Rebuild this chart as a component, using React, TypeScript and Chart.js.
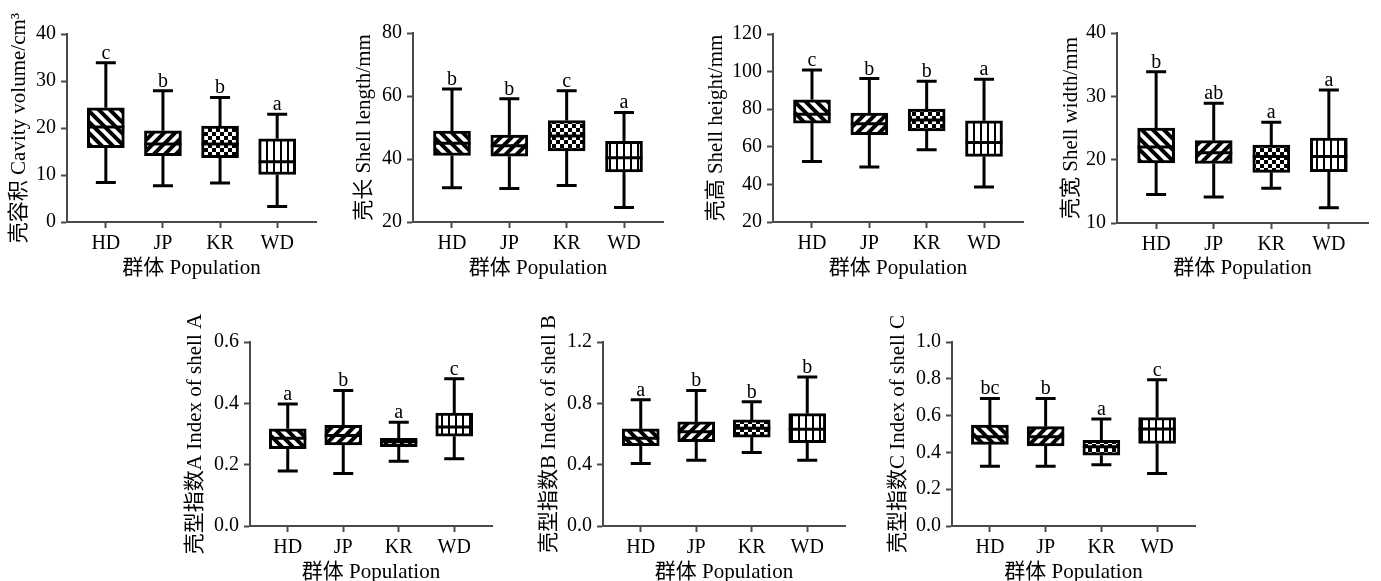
import React, { useEffect, useRef } from "react";
import { Chart, registerables } from "chart.js";
Chart.register(...registerables);

// ---------- data ----------
const populations = ["HD", "JP", "KR", "WD"];
const patternKinds = ["back", "fwd", "check", "vert"];

// each row: [min, Q1, median, Q3, max]
const cavityVolume = [
  [8.4, 15.8, 20.2, 24.3, 33.9],
  [7.7, 14.1, 16.6, 19.4, 27.9],
  [8.3, 13.7, 16.6, 20.4, 26.5],
  [3.3, 10.1, 12.8, 17.7, 22.9],
];
const cavityLetters = ["c", "b", "b", "a"];

const shellLength = [
  [30.9, 41.1, 45.0, 48.9, 62.2],
  [30.6, 40.9, 44.2, 47.6, 59.1],
  [31.6, 42.6, 47.3, 52.2, 61.7],
  [24.6, 35.9, 40.4, 45.6, 54.8],
];
const lengthLetters = ["b", "b", "c", "a"];

const shellHeight = [
  [52.2, 72.6, 77.3, 85.0, 100.9],
  [49.2, 66.4, 72.2, 77.9, 96.3],
  [58.4, 68.5, 74.3, 80.0, 94.9],
  [38.6, 54.9, 62.3, 73.8, 95.9],
];
const heightLetters = ["c", "b", "b", "a"];

const shellWidth = [
  [14.5, 19.5, 22.0, 25.0, 33.9],
  [14.1, 19.4, 21.1, 23.0, 28.9],
  [15.5, 18.0, 20.5, 22.3, 25.9],
  [12.4, 18.1, 20.5, 23.4, 31.0],
];
const widthLetters = ["b", "ab", "a", "a"];

const indexA = [
  [0.179, 0.252, 0.286, 0.317, 0.398],
  [0.171, 0.264, 0.295, 0.328, 0.442],
  [0.211, 0.259, 0.275, 0.286, 0.338],
  [0.219, 0.293, 0.323, 0.368, 0.48],
];
const indexALetters = ["a", "b", "a", "c"];

const indexB = [
  [0.408, 0.524, 0.572, 0.633, 0.823],
  [0.428, 0.55, 0.615, 0.679, 0.884],
  [0.48, 0.58, 0.637, 0.692, 0.81],
  [0.428, 0.543, 0.631, 0.733, 0.971],
];
const indexBLetters = ["a", "b", "b", "b"];

const indexC = [
  [0.325, 0.444, 0.485, 0.549, 0.693],
  [0.325, 0.435, 0.485, 0.54, 0.693],
  [0.333, 0.385, 0.431, 0.465, 0.582],
  [0.285, 0.449, 0.527, 0.589, 0.795],
];
const indexCLetters = ["bc", "b", "a", "c"];

const xTitle = "群体 Population";

// ---------- panel setup (layout) ----------
type Panel = {
  stats: number[][];
  letters: string[];
  title: string;
  yMin: number;
  yMax: number;
  step: number;
  decimals: number;
  left: number;
  right: number;
  top: number;
  bottom: number;
  titleX: number;
  xTitleY: number;
};

const panels: Panel[] = [
  { stats: cavityVolume, letters: cavityLetters, title: "壳容积 Cavity volume/cm³", yMin: 0, yMax: 40, step: 10, decimals: 0, left: 67, right: 316, top: 34, bottom: 222, titleX: 19, xTitleY: 268 },
  { stats: shellLength, letters: lengthLetters, title: "壳长 Shell length/mm", yMin: 20, yMax: 80, step: 20, decimals: 0, left: 413, right: 663, top: 33, bottom: 222, titleX: 364, xTitleY: 268 },
  { stats: shellHeight, letters: heightLetters, title: "壳高 Shell height/mm", yMin: 20, yMax: 120, step: 20, decimals: 0, left: 773, right: 1023, top: 34, bottom: 222, titleX: 716, xTitleY: 268 },
  { stats: shellWidth, letters: widthLetters, title: "壳宽 Shell width/mm", yMin: 10, yMax: 40, step: 10, decimals: 0, left: 1117, right: 1368, top: 33, bottom: 223, titleX: 1071, xTitleY: 268 },
  { stats: indexA, letters: indexALetters, title: "壳型指数A Index of shell A", yMin: 0, yMax: 0.6, step: 0.2, decimals: 1, left: 250, right: 492, top: 342, bottom: 526, titleX: 195, xTitleY: 572 },
  { stats: indexB, letters: indexBLetters, title: "壳型指数B Index of shell B", yMin: 0, yMax: 1.2, step: 0.4, decimals: 1, left: 603, right: 845, top: 342, bottom: 526, titleX: 549, xTitleY: 572 },
  { stats: indexC, letters: indexCLetters, title: "壳型指数C Index of shell C", yMin: 0, yMax: 1.0, step: 0.2, decimals: 1, left: 952, right: 1195, top: 342, bottom: 526, titleX: 898, xTitleY: 572 },
];

const W = 1381;
const H = 600;
const FONT = "'Liberation Serif', 'Times New Roman', 'Noto Sans CJK SC', serif";
const AX = "#4a4a4a";
const TICK_SIZE = 20;
const TITLE_SIZE = 21;
const BOX_W = 37;
const CAP_HALF = 10;

function makePattern(ctx: CanvasRenderingContext2D, kind: string): CanvasPattern | string {
  const c = document.createElement("canvas");
  const g = c.getContext("2d")!;
  if (kind === "back" || kind === "fwd") {
    const s = 11;
    c.width = s;
    c.height = s;
    g.fillStyle = "#fff";
    g.fillRect(0, 0, s, s);
    g.strokeStyle = "#000";
    g.lineWidth = 4;
    g.beginPath();
    for (let k = -1; k <= 1; k++) {
      if (kind === "back") {
        g.moveTo(k * s - 2, -2);
        g.lineTo(k * s + s + 2, s + 2);
      } else {
        g.moveTo(k * s - 2, s + 2);
        g.lineTo(k * s + s + 2, -2);
      }
    }
    g.stroke();
  } else if (kind === "check") {
    const s = 8;
    c.width = s;
    c.height = s;
    g.fillStyle = "#fff";
    g.fillRect(0, 0, s, s);
    g.fillStyle = "#000";
    g.fillRect(0, 0, s / 2, s / 2);
    g.fillRect(s / 2, s / 2, s / 2, s / 2);
  } else {
    c.width = 7;
    c.height = 2;
    g.fillStyle = "#fff";
    g.fillRect(0, 0, 7, 2);
    g.fillStyle = "#000";
    g.fillRect(0, 0, 2, 2);
  }
  return ctx.createPattern(c, "repeat") || "#fff";
}

function buildChart(canvas: HTMLCanvasElement, p: Panel): Chart {
  const ctx = canvas.getContext("2d")!;
  const patterns = patternKinds.map((k) => makePattern(ctx, k));
  const halfTitle = (TITLE_SIZE * 1.2) / 2;
  const scaleLeft = p.titleX - halfTitle;
  const yWidth = p.left - scaleLeft;
  const xBottom = p.xTitleY + halfTitle;
  const xHeight = xBottom - p.bottom;

  const extras = {
    id: "boxExtras",
    afterDatasetsDraw(chart: any) {
      const { ctx: c, scales } = chart;
      const x = scales.x;
      const y = scales.y;
      c.save();
      c.strokeStyle = "#000";
      c.lineWidth = 3;
      c.lineCap = "butt";
      p.stats.forEach((s, i) => {
        const px = x.getPixelForValue(i);
        const yMin = y.getPixelForValue(s[0]);
        const yQ1 = y.getPixelForValue(s[1]);
        const yMed = y.getPixelForValue(s[2]);
        const yQ3 = y.getPixelForValue(s[3]);
        const yMax = y.getPixelForValue(s[4]);
        c.beginPath();
        c.moveTo(px, yQ1);
        c.lineTo(px, yMin);
        c.moveTo(px - CAP_HALF, yMin);
        c.lineTo(px + CAP_HALF, yMin);
        c.moveTo(px, yQ3);
        c.lineTo(px, yMax);
        c.moveTo(px - CAP_HALF, yMax);
        c.lineTo(px + CAP_HALF, yMax);
        c.moveTo(px - BOX_W / 2, yMed);
        c.lineTo(px + BOX_W / 2, yMed);
        c.stroke();
        c.fillStyle = "#000";
        c.font = `${TICK_SIZE}px ${FONT}`;
        c.textAlign = "center";
        c.textBaseline = "alphabetic";
        c.fillText(p.letters[i], px, yMax - 4);
      });
      c.restore();
    },
  };

  return new Chart(canvas, {
    type: "bar",
    data: {
      datasets: [
        {
          data: p.stats.map((s, i) => ({ x: i, y: [s[1], s[3]] })) as any,
          backgroundColor: patterns as any,
          borderColor: "#000",
          borderWidth: 3,
          borderSkipped: false,
          barThickness: BOX_W,
        },
      ],
    },
    options: {
      responsive: false,
      animation: false,
      events: [],
      layout: {
        padding: {
          left: scaleLeft,
          top: p.top,
          right: W - p.right,
          bottom: H - xBottom,
        },
      },
      plugins: { legend: { display: false }, tooltip: { enabled: false } },
      scales: {
        x: {
          type: "linear",
          offset: false,
          min: -0.68,
          max: 3.68,
          afterBuildTicks: (s: any) => {
            s.ticks = populations.map((_, i) => ({ value: i }));
          },
          afterFit: (s: any) => {
            s.height = xHeight;
          },
          ticks: {
            autoSkip: false,
            maxRotation: 0,
            padding: 4,
            color: "#000",
            font: { family: FONT, size: TICK_SIZE },
            callback: (v: any) => populations[Math.round(Number(v))] ?? "",
          },
          grid: { offset: false, drawOnChartArea: false, drawTicks: true, tickLength: 6, tickColor: AX, tickWidth: 2 },
          border: { display: true, color: AX, width: 2 },
          title: { display: true, text: xTitle, color: "#000", font: { family: FONT, size: TITLE_SIZE }, padding: 0 },
        },
        y: {
          type: "linear",
          min: p.yMin,
          max: p.yMax,
          afterFit: (s: any) => {
            s.width = yWidth;
          },
          ticks: {
            stepSize: p.step,
            padding: 5,
            color: "#000",
            font: { family: FONT, size: TICK_SIZE },
            callback: (v: any) => Number(v).toFixed(p.decimals),
          },
          grid: { drawOnChartArea: false, drawTicks: true, tickLength: 6, tickColor: AX, tickWidth: 2 },
          border: { display: true, color: AX, width: 2 },
          title: { display: true, text: p.title, color: "#000", font: { family: FONT, size: TITLE_SIZE }, padding: 0 },
        },
      },
    },
    plugins: [extras as any],
  });
}

export default function App() {
  const refs = useRef<(HTMLCanvasElement | null)[]>([]);
  useEffect(() => {
    const charts: Chart[] = [];
    panels.forEach((p, i) => {
      const cv = refs.current[i];
      if (cv) charts.push(buildChart(cv, p));
    });
    return () => charts.forEach((c) => c.destroy());
  }, []);
  return (
    <div
      style={{
        position: "fixed",
        left: 0,
        top: 0,
        width: W,
        height: 581,
        overflow: "hidden",
        background: "#fff",
      }}
    >
      {panels.map((_, i) => (
        <canvas
          key={i}
          ref={(el) => {
            refs.current[i] = el;
          }}
          width={W}
          height={H}
          style={{ position: "absolute", left: 0, top: 0, width: W, height: H }}
        />
      ))}
    </div>
  );
}
